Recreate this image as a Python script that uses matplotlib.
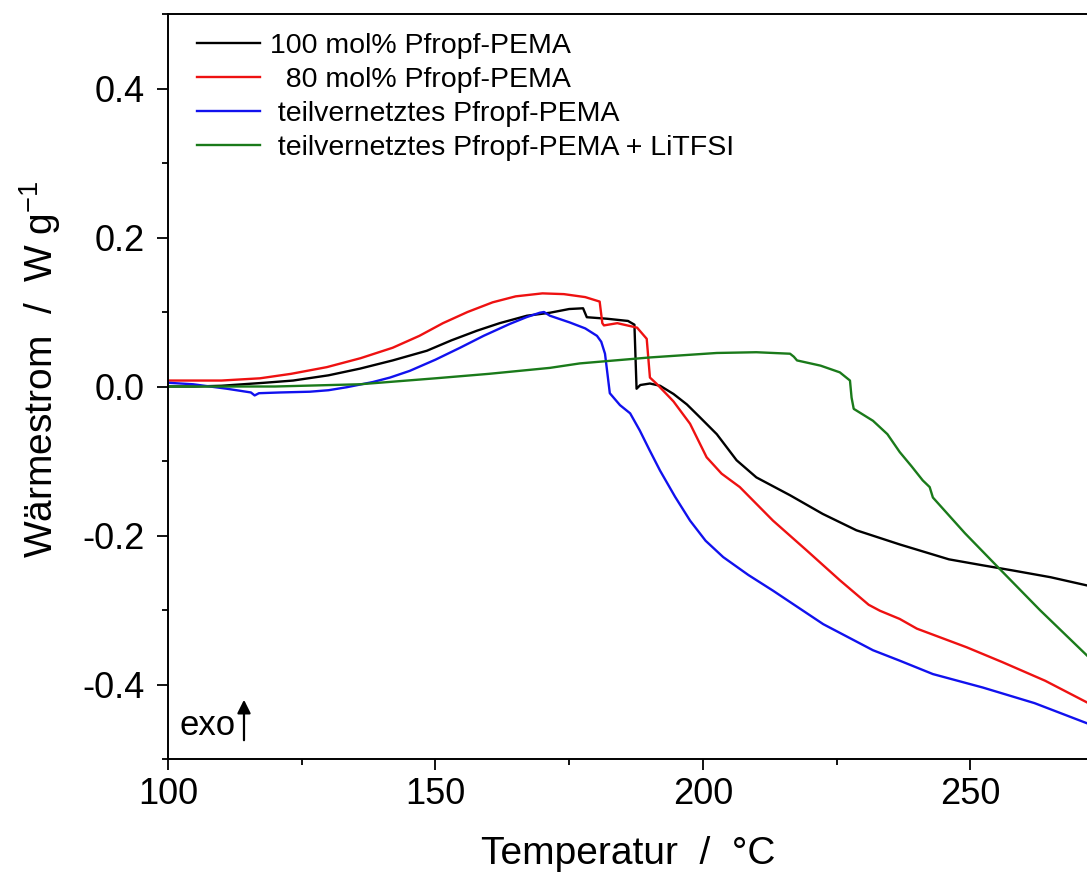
import numpy as np
import matplotlib
matplotlib.use("Agg")
import matplotlib.pyplot as plt
from matplotlib.ticker import MultipleLocator

plt.rcParams['font.family'] = ['Liberation Sans', 'DejaVu Sans']
plt.rcParams['mathtext.default'] = 'regular'
plt.rcParams['axes.unicode_minus'] = False

## data (temperature in degC, heat flow in W/g)
t_100 = [100, 105, 110, 114, 118, 123.4, 130, 135.9, 142, 148.4, 153, 157.8, 162, 167.1, 171.4, 175,
         177.6, 178.3, 182, 186.0, 187.2, 187.6, 188.3, 190.1, 192.0, 194.5, 197.0, 199.4, 202.6, 206.3, 210,
         216.3, 222.4, 228.7, 236.8, 246, 252.3, 258, 265, 271.8]
hf_100 = [0.0, 0.0, 0.001, 0.003, 0.005, 0.008, 0.015, 0.024, 0.035, 0.048, 0.062, 0.075, 0.085, 0.095, 0.099, 0.104,
          0.105, 0.093, 0.091, 0.088, 0.083, -0.003, 0.002, 0.004, 0.001, -0.010, -0.024, -0.041, -0.064, -0.099, -0.122,
          -0.146, -0.171, -0.193, -0.212, -0.232, -0.240, -0.247, -0.256, -0.267]

t_80 = [100, 110, 117.2, 123, 129.7, 136, 142, 147, 151.4, 156, 160.7, 165, 170, 174, 178, 180.7, 181.2,
        181.5, 184, 187.7, 189.5, 190.1, 191.3, 194.5, 197.6, 200.7, 203.5, 206.9, 213.1, 219.4, 225.6, 231.0,
        233.1, 236.8, 240, 249.3, 256, 264, 271.8]
hf_80 = [0.008, 0.008, 0.011, 0.017, 0.026, 0.038, 0.052, 0.068, 0.085, 0.1, 0.113, 0.121, 0.125, 0.124, 0.12, 0.114, 0.085,
         0.082, 0.085, 0.079, 0.064, 0.012, 0.004, -0.020, -0.050, -0.095, -0.117, -0.135, -0.180, -0.220, -0.260, -0.293,
         -0.301, -0.312, -0.325, -0.350, -0.37, -0.395, -0.424]

t_tv = [100, 104.7, 111, 115.5, 116.2, 117, 121, 126.5, 130, 133.4, 138.3, 141.5, 145.2, 150, 154.6, 159, 163.9,
        167, 169.5, 170.3, 171.4, 175.1, 178, 180.2, 181.0, 181.7, 182.6, 184.5, 186.4, 188.2, 190.0, 192.0,
        194.8, 197.6, 200.5, 203.8, 208.5, 213.1, 222.5, 231.8, 236.8, 243, 252.3, 262, 271.8]
hf_tv = [0.005, 0.003, -0.003, -0.008, -0.012, -0.009, -0.008, -0.007, -0.005, -0.001, 0.006, 0.012, 0.021, 0.036, 0.052, 0.068, 0.084,
         0.093, 0.099, 0.1, 0.095, 0.086, 0.078, 0.068, 0.06, 0.044, -0.009, -0.025, -0.036, -0.059, -0.085, -0.113,
         -0.148, -0.180, -0.207, -0.229, -0.253, -0.274, -0.319, -0.354, -0.368, -0.386, -0.404, -0.425, -0.452]

t_li = [100, 110, 120, 135.9, 150, 160, 171.4, 177, 190.1, 202.6, 210, 216.3, 217.0, 217.6, 222, 225.6, 227.5,
        227.8, 228.2, 231.8, 234.5, 236.8, 239, 241.1, 242.4, 243, 249, 255.5, 263, 271.8]
hf_li = [0.0, 0.0, 0.0, 0.003, 0.011, 0.017, 0.025, 0.031, 0.039, 0.045, 0.046, 0.044, 0.040, 0.035, 0.028, 0.019, 0.008,
         -0.015, -0.030, -0.046, -0.064, -0.088, -0.107, -0.126, -0.135, -0.149, -0.197, -0.245, -0.3, -0.361]

labels = ["100 mol% Pfropf-PEMA", "  80 mol% Pfropf-PEMA", " teilvernetztes Pfropf-PEMA",
          " teilvernetztes Pfropf-PEMA + LiTFSI"]
colors = ["black", "#ee1111", "#1111ee", "#1a7a1a"]

fig = plt.figure(figsize=(10.87, 8.73), dpi=100)
ax = fig.add_axes([168 / 1087, 1 - 759 / 873, 920 / 1087, 745 / 873])

for t, hf, lab, c in zip([t_100, t_80, t_tv, t_li], [hf_100, hf_80, hf_tv, hf_li], labels, colors):
    ax.plot(t, hf, color=c, lw=1.7, label=lab)

ax.set_xlim(100, 272)
ax.set_ylim(-0.5, 0.5)
ax.xaxis.set_major_locator(MultipleLocator(50))
ax.xaxis.set_minor_locator(MultipleLocator(25))
ax.set_yticks([-0.4, -0.2, 0.0, 0.2, 0.4])
ax.yaxis.set_minor_locator(MultipleLocator(0.1))
ax.tick_params(which='major', direction='out', length=8, width=1.3, labelsize=26)
ax.tick_params(which='minor', direction='out', length=4.5, width=1.3)
ax.tick_params(axis='x', pad=5)
ax.tick_params(axis='y', pad=9)
ax.spines['right'].set_visible(False)
for s in ['left', 'bottom', 'top']:
    ax.spines[s].set_linewidth(1.4)

ax.set_xlabel("Temperatur  /  °C", fontsize=28)
ax.xaxis.set_label_coords(0.5, (759 - 864) / 745)
ax.xaxis.label.set_va('baseline')
ax.set_ylabel("Wärmestrom  /  W g$^{-1}$", fontsize=28)
ax.yaxis.set_label_coords((53 - 168) / 920, (759 - 369.5) / 745)
ax.yaxis.label.set_va('baseline')

leg = ax.legend(loc='upper left', bbox_to_anchor=(0.0315, 0.975), frameon=False, fontsize=20.5,
                handlelength=2.2, handletextpad=0.35, labelspacing=0.29, borderpad=0, borderaxespad=0)

ax.text(0.012, 0.0443, "exo", transform=ax.transAxes, fontsize=25, va='center', ha='left')
ax.annotate("", xy=(0.0826, 0.0832), xytext=(0.0826, 0.0215), xycoords='axes fraction',
            arrowprops=dict(arrowstyle='-|>', lw=1.6, color='black', mutation_scale=20))

fig.savefig("out.png", dpi=100)
